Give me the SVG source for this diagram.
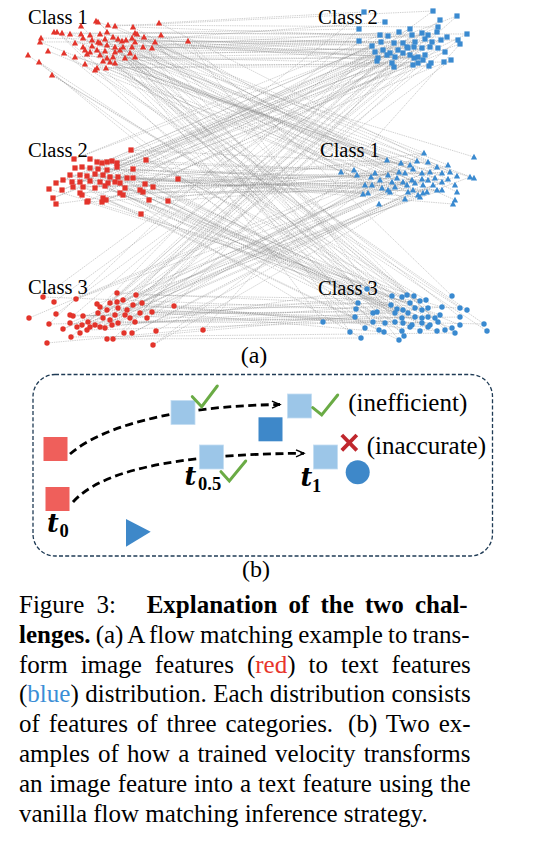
<svg xmlns="http://www.w3.org/2000/svg" xmlns:xlink="http://www.w3.org/1999/xlink" width="550" height="854" viewBox="0 0 550 854">
<style>
.lbl{font-family:"Liberation Serif","Times New Roman",serif;font-size:20.5px;fill:#000}
.pl{font-family:"Liberation Serif","Times New Roman",serif;font-size:24px;fill:#000}
.cap{font-family:"Liberation Serif","Times New Roman",serif;font-size:25px;fill:#000}
.b{font-weight:bold}
.ti{font-family:"DejaVu Serif",serif;font-style:italic;font-weight:bold;font-size:25.5px;fill:#000}
.sub{font-family:"Liberation Serif",serif;font-weight:bold;font-size:18.5px;fill:#000}
.lines{fill:none;stroke:#8c8c8c;stroke-opacity:0.55;stroke-width:0.75;stroke-dasharray:1.4 0.9}
.r{fill:#e3342b}
.bl{fill:#3a8ad0}
.rs{fill:#ef5f5b}
.ls{fill:#9cc6e8;stroke:#c4ddf2;stroke-width:0.8}
.ds{fill:#3e88c9}
.chk{fill:none;stroke:#6aab45;stroke-width:3;stroke-linecap:round;stroke-linejoin:miter}
.flow{fill:none;stroke:#000;stroke-width:2.8;stroke-dasharray:8 4.5}
</style>
<defs>
<path id="T" d="M0,-3.2L3.1,2.4L-3.1,2.4Z"/>
<rect id="S" x="-2.6" y="-2.6" width="5.2" height="5.2"/>
<circle id="C" r="2.7"/>
<marker id="arr" markerUnits="userSpaceOnUse" markerWidth="12" markerHeight="12" refX="8" refY="4" orient="auto" overflow="visible">
<path d="M0,0.5L8,4L0,7.5" fill="none" stroke="#000" stroke-width="1.4"/>
</marker>
</defs>
<rect width="550" height="854" fill="#fff"/>

<g id="connectors-a">
<path class="lines" d="M159 23L364 12M108 25L438 27M133 27L388 36M62 33L467 34M90 35L403 43M113 37L447 37M144 37L390 53M41 38L430 47M92 40L395 57M118 39L377 61M132 38L423 60M75 43L414 58M100 43L385 22M123 47L399 32M152 48L428 35M85 50L381 42M105 51L432 42M130 53L375 52M75 57L414 47M107 58L378 58M103 61L418 57M85 64L413 65M106 68L444 62
M96 21L424 153M115 26L437 167M54 32L399 172M70 34L457 176M100 34L403 182M135 33L365 185M161 35L423 185M40 42L413 190M98 42L405 199M122 41L387 160M135 42L341 172M83 47L413 169M107 45L474 178M132 47L422 179M48 51L382 188M90 52L455 185M115 52L423 193M135 57L455 200M87 54L410 165M113 57L357 175M110 62L430 172M97 68L380 180M115 63L435 178
M98 22L367 289M81 26L377 312M57 32L355 317M81 34L373 322M107 32L379 330M137 34L350 332M188 41L452 296M83 38L428 308M105 39L435 318M126 40L438 322M155 42L445 330M92 46L407 295M115 47L403 310M143 47L408 313M64 53L403 323M97 50L410 327M120 50L404 336M28 55L373 313M100 55L467 310M125 58L323 322M39 62L365 328M95 70L487 331M52 75L426 300
M131 150L401 163M90 159L354 170M107 162L422 173M75 168L371 177M98 169L428 180M133 169L388 190M87 176L363 194M110 177L427 192M133 178L453 204M63 180L417 161M90 181L375 173M115 182L442 173M153 187L392 182M73 187L442 182M105 186L407 185M143 192L390 192M120 193L442 190M56 204L424 153M103 198L437 167M149 200L399 172
M146 160L420 301M97 162L415 308M112 161L422 318M82 167L422 323M107 170L428 327M70 175L392 296M95 174L391 305M118 177L395 313M178 179L385 323M72 182L384 332M100 182L361 338M120 183L358 303M49 189L442 307M83 187L440 315M125 188L460 325M80 193L452 328M123 195L414 296M87 202L410 303M106 200L415 317M168 201L412 325
M74 159L457 16M102 163L410 29M117 163L422 33M90 168L372 46M117 167L425 39M80 175L460 44M103 175L408 48M127 178L445 52M56 183L410 55M80 182L394 67M108 183L431 63M145 184L364 12M62 190L438 27M95 188L388 36M140 190L467 34M82 195L403 43M53 198L447 37M88 201L390 53M102 202L430 47M141 214L395 57
M43 297L356 309M117 293L460 308M49 324L460 317M70 315L484 324M71 337L455 333M83 316L420 301M100 307L415 308M107 310L422 318M118 308L422 323M133 305L428 327M110 320L392 296M90 327L391 305M118 323L395 313M135 322L385 323M152 312L384 332M107 339L361 338M174 306L358 303M47 343L442 307
M54 302L440 20M136 295L380 35M56 314L437 32M73 316L394 43M80 333L441 40M88 322L383 50M98 313L422 48M110 303L387 55M123 300L425 55M142 303L418 63M103 318L451 60M105 328L457 16M125 315L410 29M140 313L422 33M124 333L372 46M113 339L425 39M203 330L460 44M87 330L408 48
M76 299L417 161M29 318L375 173M63 329L442 173M70 323L392 182M82 325L442 182M97 304L407 185M100 327L390 192M117 302L442 190M127 310L424 153M115 315L437 167M95 325L399 172M112 325L457 176M130 318L403 182M147 318L365 185M132 333L423 185M156 331L413 190M153 345L405 199M77 327L387 160
M159 23L450 172M98 22L402 297M115 26L433 11M133 27L397 178M57 32L397 309M70 34L359 29M90 35L448 179M107 32L402 318M135 33L412 35M144 37L415 183M188 41L395 322M40 42L359 41M92 40L408 192M105 39L402 331M122 41L415 42M132 38L457 192M155 42L399 340M83 47L458 40M100 43L474 157M115 47L356 309M132 47L398 50M152 48L448 165M64 53L460 308M90 52L438 48M105 51L405 173M120 50L460 317M135 57L403 53M75 57L470 177M100 55L484 324M113 57L392 63M103 61L412 180M39 62L455 333M97 68L429 66M106 68L372 185M52 75L420 301
M131 150L422 310M74 159L380 35M97 162L395 187M107 162L428 317M117 163L437 32M82 167L368 193M98 169L430 325M117 167L394 43M70 175L437 190M87 176L437 331M103 175L441 40M118 177L420 197M133 178L402 297M56 183L383 50M72 182L428 162M90 181L397 309M108 183L422 48M120 183L388 175M153 187L402 318M62 190L387 55M83 187L450 172M105 186L395 322M140 190L425 55M80 193L397 178M120 193L402 331M53 198L418 63M87 202L448 179M103 198L399 340M102 202L451 60M168 201L415 183
M43 297L433 11M76 299L448 165M136 295L426 300M49 324L359 29M63 329L405 173M73 316L422 310M71 337L412 35M82 325L470 177M88 322L428 317M100 307L359 41M100 327L412 180M110 303L430 325M118 308L415 42M127 310L372 185M142 303L437 331M110 320L458 40M95 325L433 185M105 328L367 289M118 323L398 50M130 318L418 195M140 313L377 312M152 312L438 48M132 333L379 204M113 339L355 317M174 306L403 53M153 345L401 163M87 330L373 322"/>
</g>

<g id="labels-a">
<text class="lbl" x="28" y="24">Class 1</text>
<text class="lbl" x="318" y="24">Class 2</text>
<text class="lbl" x="28" y="157">Class 2</text>
<text class="lbl" x="320" y="157">Class 1</text>
<text class="lbl" x="28" y="294">Class 3</text>
<text class="lbl" x="318" y="295">Class 3</text>
<text class="pl" x="254" y="363" text-anchor="middle">(a)</text>
</g>

<g id="image-class1" class="r">
<use href="#T" x="159" y="23"/><use href="#T" x="96" y="21"/><use href="#T" x="98" y="22"/><use href="#T" x="108" y="25"/><use href="#T" x="115" y="26"/><use href="#T" x="81" y="26"/><use href="#T" x="133" y="27"/><use href="#T" x="54" y="32"/><use href="#T" x="57" y="32"/><use href="#T" x="62" y="33"/><use href="#T" x="70" y="34"/><use href="#T" x="81" y="34"/><use href="#T" x="90" y="35"/><use href="#T" x="100" y="34"/><use href="#T" x="107" y="32"/><use href="#T" x="113" y="37"/><use href="#T" x="135" y="33"/><use href="#T" x="137" y="34"/><use href="#T" x="144" y="37"/><use href="#T" x="161" y="35"/><use href="#T" x="188" y="41"/><use href="#T" x="41" y="38"/><use href="#T" x="40" y="42"/><use href="#T" x="83" y="38"/><use href="#T" x="92" y="40"/><use href="#T" x="98" y="42"/><use href="#T" x="105" y="39"/><use href="#T" x="118" y="39"/><use href="#T" x="122" y="41"/><use href="#T" x="126" y="40"/><use href="#T" x="132" y="38"/><use href="#T" x="135" y="42"/><use href="#T" x="155" y="42"/><use href="#T" x="75" y="43"/><use href="#T" x="83" y="47"/><use href="#T" x="92" y="46"/><use href="#T" x="100" y="43"/><use href="#T" x="107" y="45"/><use href="#T" x="115" y="47"/><use href="#T" x="123" y="47"/><use href="#T" x="132" y="47"/><use href="#T" x="143" y="47"/><use href="#T" x="152" y="48"/><use href="#T" x="48" y="51"/><use href="#T" x="64" y="53"/><use href="#T" x="85" y="50"/><use href="#T" x="90" y="52"/><use href="#T" x="97" y="50"/><use href="#T" x="105" y="51"/><use href="#T" x="115" y="52"/><use href="#T" x="120" y="50"/><use href="#T" x="130" y="53"/><use href="#T" x="135" y="57"/><use href="#T" x="28" y="55"/><use href="#T" x="75" y="57"/><use href="#T" x="87" y="54"/><use href="#T" x="100" y="55"/><use href="#T" x="107" y="58"/><use href="#T" x="113" y="57"/><use href="#T" x="125" y="58"/><use href="#T" x="103" y="61"/><use href="#T" x="110" y="62"/><use href="#T" x="39" y="62"/><use href="#T" x="85" y="64"/><use href="#T" x="97" y="68"/><use href="#T" x="95" y="70"/><use href="#T" x="106" y="68"/><use href="#T" x="115" y="63"/><use href="#T" x="52" y="75"/>
</g>

<g id="text-class2" class="bl">
<use href="#S" x="364" y="12"/><use href="#S" x="433" y="11"/><use href="#S" x="457" y="16"/><use href="#S" x="385" y="22"/><use href="#S" x="440" y="20"/><use href="#S" x="438" y="27"/><use href="#S" x="359" y="29"/><use href="#S" x="410" y="29"/><use href="#S" x="399" y="32"/><use href="#S" x="380" y="35"/><use href="#S" x="388" y="36"/><use href="#S" x="412" y="35"/><use href="#S" x="422" y="33"/><use href="#S" x="428" y="35"/><use href="#S" x="437" y="32"/><use href="#S" x="467" y="34"/><use href="#S" x="359" y="41"/><use href="#S" x="372" y="46"/><use href="#S" x="381" y="42"/><use href="#S" x="394" y="43"/><use href="#S" x="403" y="43"/><use href="#S" x="415" y="42"/><use href="#S" x="425" y="39"/><use href="#S" x="432" y="42"/><use href="#S" x="441" y="40"/><use href="#S" x="447" y="37"/><use href="#S" x="458" y="40"/><use href="#S" x="460" y="44"/><use href="#S" x="375" y="52"/><use href="#S" x="383" y="50"/><use href="#S" x="390" y="53"/><use href="#S" x="398" y="50"/><use href="#S" x="408" y="48"/><use href="#S" x="414" y="47"/><use href="#S" x="422" y="48"/><use href="#S" x="430" y="47"/><use href="#S" x="438" y="48"/><use href="#S" x="445" y="52"/><use href="#S" x="378" y="58"/><use href="#S" x="387" y="55"/><use href="#S" x="395" y="57"/><use href="#S" x="403" y="53"/><use href="#S" x="410" y="55"/><use href="#S" x="418" y="57"/><use href="#S" x="425" y="55"/><use href="#S" x="377" y="61"/><use href="#S" x="392" y="63"/><use href="#S" x="394" y="67"/><use href="#S" x="413" y="65"/><use href="#S" x="418" y="63"/><use href="#S" x="423" y="60"/><use href="#S" x="429" y="66"/><use href="#S" x="431" y="63"/><use href="#S" x="444" y="62"/><use href="#S" x="451" y="60"/><use href="#S" x="414" y="58"/><use href="#S" x="407" y="47"/>
</g>

<g id="image-class2" class="r">
<use href="#S" x="131" y="150"/><use href="#S" x="146" y="160"/><use href="#S" x="74" y="159"/><use href="#S" x="90" y="159"/><use href="#S" x="97" y="162"/><use href="#S" x="102" y="163"/><use href="#S" x="107" y="162"/><use href="#S" x="112" y="161"/><use href="#S" x="117" y="163"/><use href="#S" x="75" y="168"/><use href="#S" x="82" y="167"/><use href="#S" x="90" y="168"/><use href="#S" x="98" y="169"/><use href="#S" x="107" y="170"/><use href="#S" x="117" y="167"/><use href="#S" x="133" y="169"/><use href="#S" x="70" y="175"/><use href="#S" x="80" y="175"/><use href="#S" x="87" y="176"/><use href="#S" x="95" y="174"/><use href="#S" x="103" y="175"/><use href="#S" x="110" y="177"/><use href="#S" x="118" y="177"/><use href="#S" x="127" y="178"/><use href="#S" x="133" y="178"/><use href="#S" x="178" y="179"/><use href="#S" x="56" y="183"/><use href="#S" x="63" y="180"/><use href="#S" x="72" y="182"/><use href="#S" x="80" y="182"/><use href="#S" x="90" y="181"/><use href="#S" x="100" y="182"/><use href="#S" x="108" y="183"/><use href="#S" x="115" y="182"/><use href="#S" x="120" y="183"/><use href="#S" x="145" y="184"/><use href="#S" x="153" y="187"/><use href="#S" x="49" y="189"/><use href="#S" x="62" y="190"/><use href="#S" x="73" y="187"/><use href="#S" x="83" y="187"/><use href="#S" x="95" y="188"/><use href="#S" x="105" y="186"/><use href="#S" x="125" y="188"/><use href="#S" x="140" y="190"/><use href="#S" x="143" y="192"/><use href="#S" x="80" y="193"/><use href="#S" x="82" y="195"/><use href="#S" x="120" y="193"/><use href="#S" x="123" y="195"/><use href="#S" x="53" y="198"/><use href="#S" x="56" y="204"/><use href="#S" x="87" y="202"/><use href="#S" x="88" y="201"/><use href="#S" x="103" y="198"/><use href="#S" x="106" y="200"/><use href="#S" x="102" y="202"/><use href="#S" x="149" y="200"/><use href="#S" x="168" y="201"/><use href="#S" x="141" y="214"/>
</g>

<g id="text-class1" class="bl">
<use href="#T" x="424" y="153"/><use href="#T" x="474" y="157"/><use href="#T" x="387" y="160"/><use href="#T" x="401" y="163"/><use href="#T" x="410" y="165"/><use href="#T" x="417" y="161"/><use href="#T" x="428" y="162"/><use href="#T" x="437" y="167"/><use href="#T" x="448" y="165"/><use href="#T" x="341" y="172"/><use href="#T" x="354" y="170"/><use href="#T" x="357" y="175"/><use href="#T" x="375" y="173"/><use href="#T" x="388" y="175"/><use href="#T" x="399" y="172"/><use href="#T" x="405" y="173"/><use href="#T" x="413" y="169"/><use href="#T" x="422" y="173"/><use href="#T" x="430" y="172"/><use href="#T" x="442" y="173"/><use href="#T" x="450" y="172"/><use href="#T" x="457" y="176"/><use href="#T" x="470" y="177"/><use href="#T" x="474" y="178"/><use href="#T" x="371" y="177"/><use href="#T" x="380" y="180"/><use href="#T" x="392" y="182"/><use href="#T" x="397" y="178"/><use href="#T" x="403" y="182"/><use href="#T" x="412" y="180"/><use href="#T" x="422" y="179"/><use href="#T" x="428" y="180"/><use href="#T" x="435" y="178"/><use href="#T" x="442" y="182"/><use href="#T" x="448" y="179"/><use href="#T" x="365" y="185"/><use href="#T" x="372" y="185"/><use href="#T" x="382" y="188"/><use href="#T" x="388" y="190"/><use href="#T" x="395" y="187"/><use href="#T" x="407" y="185"/><use href="#T" x="415" y="183"/><use href="#T" x="423" y="185"/><use href="#T" x="433" y="185"/><use href="#T" x="455" y="185"/><use href="#T" x="363" y="194"/><use href="#T" x="368" y="193"/><use href="#T" x="390" y="192"/><use href="#T" x="408" y="192"/><use href="#T" x="413" y="190"/><use href="#T" x="418" y="195"/><use href="#T" x="423" y="193"/><use href="#T" x="427" y="192"/><use href="#T" x="437" y="190"/><use href="#T" x="442" y="190"/><use href="#T" x="457" y="192"/><use href="#T" x="405" y="199"/><use href="#T" x="379" y="204"/><use href="#T" x="455" y="200"/><use href="#T" x="453" y="204"/><use href="#T" x="420" y="197"/>
</g>

<g id="image-class3" class="r">
<use href="#C" x="43" y="297"/><use href="#C" x="54" y="302"/><use href="#C" x="76" y="299"/><use href="#C" x="117" y="293"/><use href="#C" x="136" y="295"/><use href="#C" x="29" y="318"/><use href="#C" x="49" y="324"/><use href="#C" x="56" y="314"/><use href="#C" x="63" y="329"/><use href="#C" x="70" y="315"/><use href="#C" x="73" y="316"/><use href="#C" x="70" y="323"/><use href="#C" x="71" y="337"/><use href="#C" x="80" y="333"/><use href="#C" x="82" y="325"/><use href="#C" x="83" y="316"/><use href="#C" x="88" y="322"/><use href="#C" x="97" y="304"/><use href="#C" x="100" y="307"/><use href="#C" x="98" y="313"/><use href="#C" x="100" y="327"/><use href="#C" x="107" y="310"/><use href="#C" x="110" y="303"/><use href="#C" x="117" y="302"/><use href="#C" x="118" y="308"/><use href="#C" x="123" y="300"/><use href="#C" x="127" y="310"/><use href="#C" x="133" y="305"/><use href="#C" x="142" y="303"/><use href="#C" x="115" y="315"/><use href="#C" x="110" y="320"/><use href="#C" x="103" y="318"/><use href="#C" x="95" y="325"/><use href="#C" x="90" y="327"/><use href="#C" x="105" y="328"/><use href="#C" x="112" y="325"/><use href="#C" x="118" y="323"/><use href="#C" x="125" y="315"/><use href="#C" x="130" y="318"/><use href="#C" x="135" y="322"/><use href="#C" x="140" y="313"/><use href="#C" x="147" y="318"/><use href="#C" x="152" y="312"/><use href="#C" x="124" y="333"/><use href="#C" x="132" y="333"/><use href="#C" x="107" y="339"/><use href="#C" x="113" y="339"/><use href="#C" x="156" y="331"/><use href="#C" x="174" y="306"/><use href="#C" x="203" y="330"/><use href="#C" x="153" y="345"/><use href="#C" x="47" y="343"/><use href="#C" x="87" y="330"/><use href="#C" x="77" y="327"/>
</g>

<g id="text-class3" class="bl">
<use href="#C" x="367" y="289"/><use href="#C" x="392" y="296"/><use href="#C" x="402" y="297"/><use href="#C" x="407" y="295"/><use href="#C" x="414" y="296"/><use href="#C" x="420" y="301"/><use href="#C" x="426" y="300"/><use href="#C" x="452" y="296"/><use href="#C" x="358" y="303"/><use href="#C" x="356" y="309"/><use href="#C" x="373" y="313"/><use href="#C" x="377" y="312"/><use href="#C" x="391" y="305"/><use href="#C" x="397" y="309"/><use href="#C" x="403" y="310"/><use href="#C" x="410" y="303"/><use href="#C" x="415" y="308"/><use href="#C" x="422" y="310"/><use href="#C" x="428" y="308"/><use href="#C" x="442" y="307"/><use href="#C" x="460" y="308"/><use href="#C" x="467" y="310"/><use href="#C" x="355" y="317"/><use href="#C" x="395" y="313"/><use href="#C" x="402" y="318"/><use href="#C" x="408" y="313"/><use href="#C" x="415" y="317"/><use href="#C" x="422" y="318"/><use href="#C" x="428" y="317"/><use href="#C" x="435" y="318"/><use href="#C" x="440" y="315"/><use href="#C" x="460" y="317"/><use href="#C" x="323" y="322"/><use href="#C" x="373" y="322"/><use href="#C" x="385" y="323"/><use href="#C" x="395" y="322"/><use href="#C" x="403" y="323"/><use href="#C" x="412" y="325"/><use href="#C" x="422" y="323"/><use href="#C" x="430" y="325"/><use href="#C" x="438" y="322"/><use href="#C" x="460" y="325"/><use href="#C" x="484" y="324"/><use href="#C" x="365" y="328"/><use href="#C" x="379" y="330"/><use href="#C" x="384" y="332"/><use href="#C" x="402" y="331"/><use href="#C" x="410" y="327"/><use href="#C" x="420" y="331"/><use href="#C" x="428" y="327"/><use href="#C" x="437" y="331"/><use href="#C" x="445" y="330"/><use href="#C" x="452" y="328"/><use href="#C" x="455" y="333"/><use href="#C" x="487" y="331"/><use href="#C" x="350" y="332"/><use href="#C" x="361" y="338"/><use href="#C" x="399" y="340"/><use href="#C" x="404" y="336"/>
</g>

<g id="panel-b">
<rect id="frame-b" x="33" y="374.5" width="459.5" height="181.5" rx="22" fill="none" stroke="#1f3b55" stroke-width="1.3" stroke-dasharray="4 2.2"/>
<g id="connectors-b">
<path class="flow" d="M70,454C100,428 170,406 280,404.5" marker-end="url(#arr)"/>
<path class="flow" d="M73,502C100,472 170,454 304,453.3" marker-end="url(#arr)"/>
</g>
<g id="start-1"><rect class="rs" x="43.5" y="437" width="24" height="24"/></g>
<g id="start-2"><rect class="rs" x="45.5" y="487" width="24" height="24"/></g>
<g id="label-t0"><text class="ti" x="47" y="532">t</text><text class="sub" x="59.5" y="537">0</text></g>
<g id="mid-1"><rect class="ls" x="171" y="400.5" width="24" height="24"/><path class="chk" d="M192.3 396.7L201.7 406.7L217.3 386"/></g>
<g id="mid-2"><rect class="ls" x="199.5" y="445" width="24" height="24"/><path class="chk" d="M221 471.7L229.3 481L245.7 461"/></g>
<g id="label-t05"><text class="ti" x="184.5" y="484.5">t</text><text class="sub" x="198" y="489.5">0.5</text></g>
<g id="target-square"><rect class="ds" x="258.5" y="417.3" width="24" height="24"/></g>
<g id="end-1"><rect class="ls" x="287.5" y="394" width="24" height="24"/><path class="chk" d="M312.7 407.7L321.7 415L337.7 395"/><text class="cap" x="348.3" y="411">(inefficient)</text></g>
<g id="end-2"><rect class="ls" x="313.5" y="445" width="24" height="24"/><path d="M341.8 435L356.8 450.4M356.8 435L341.8 450.4" stroke="#c0272d" stroke-width="3.8" fill="none"/><text class="cap" x="366.7" y="454">(inaccurate)</text></g>
<g id="label-t1"><text class="ti" x="300.5" y="485.5">t</text><text class="sub" x="312" y="492">1</text></g>
<g id="target-circle"><circle class="ds" cx="357.7" cy="472.3" r="12"/></g>
<g id="target-triangle"><path class="ds" d="M126,519L126,546.7L150.7,531.7Z"/></g>
</g>
<text class="pl" x="256" y="577" text-anchor="middle">(b)</text>

<g id="caption">
<text class="cap" x="19" y="613" word-spacing="6">Figure 3:</text>
<text class="cap b" x="146.7" y="613" word-spacing="4.9">Explanation of the two chal-</text>
<text class="cap" x="19" y="642.8" word-spacing="-1.1"><tspan class="b">lenges.</tspan> (a) A flow matching example to trans-</text>
<text class="cap" x="19" y="672.6" word-spacing="6.8">form image features (<tspan fill="#e8352c">red</tspan>) to text features</text>
<text class="cap" x="19" y="702.4" word-spacing="0.25">(<tspan fill="#3b8ed6">blue</tspan>) distribution. Each distribution consists</text>
<text class="cap" x="19" y="732.2" word-spacing="2.7">of features of three categories. <tspan dx="6">(b) Two ex-</tspan></text>
<text class="cap" x="19" y="762" word-spacing="1.9">amples of how a trained velocity transforms</text>
<text class="cap" x="19" y="791.8" word-spacing="0.75">an image feature into a text feature using the</text>
<text class="cap" x="19" y="821.6">vanilla flow matching inference strategy.</text>
</g>
</svg>
